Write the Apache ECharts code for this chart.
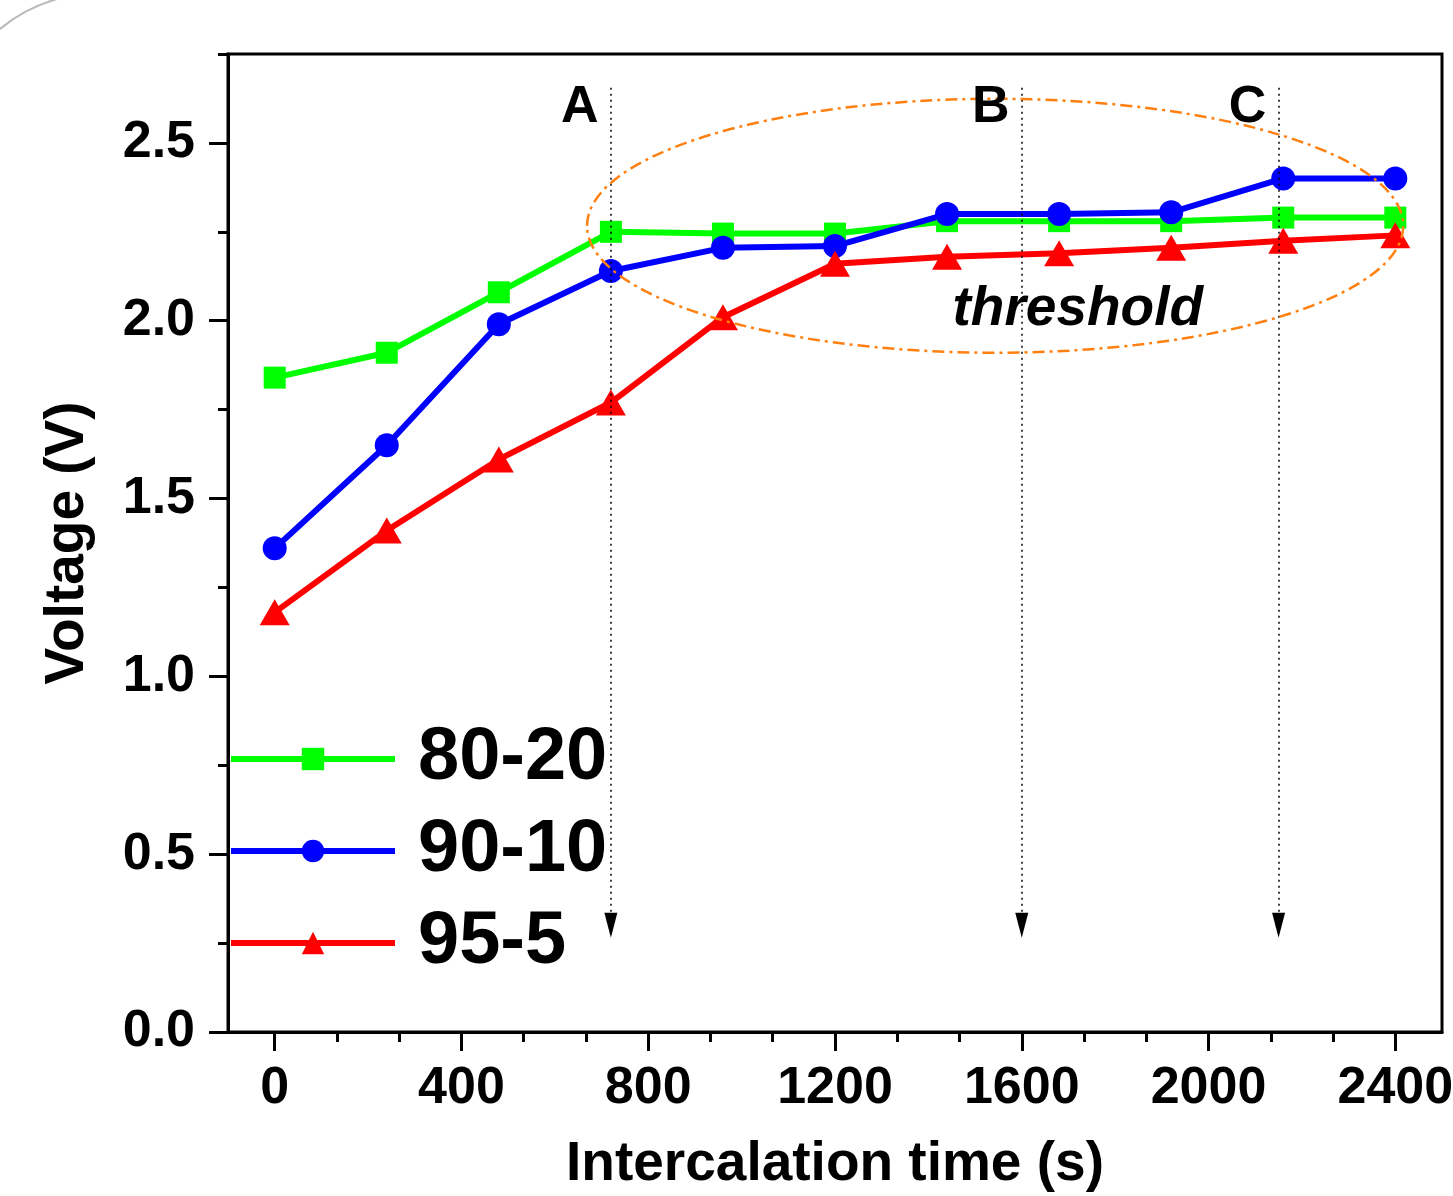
<!DOCTYPE html>
<html>
<head>
<meta charset="utf-8">
<script src="https://cdn.jsdelivr.net/npm/echarts@6/dist/echarts.min.js"></script>
<style>
  html, body { margin: 0; padding: 0; background: #fff; }
  #chart { width: 1453px; height: 1196px; }
</style>
</head>
<body>
<div id="chart"></div>
<script>
// intercalation time (s)
const times = [0, 240, 480, 720, 960, 1200, 1440, 1680, 1920, 2160, 2400]
// voltage (V) per composition
const v8020 = [1.84, 1.91, 2.08, 2.25, 2.245, 2.245, 2.28, 2.28, 2.28, 2.29, 2.29]
const v9010 = [1.36, 1.65, 1.99, 2.14, 2.205, 2.21, 2.30, 2.30, 2.305, 2.40, 2.40]
const v955 = [1.18, 1.41, 1.61, 1.77, 2.01, 2.16, 2.18, 2.19, 2.205, 2.225, 2.24]

const xTicks = [0, 400, 800, 1200, 1600, 2000, 2400]
const yTicks = [0, 0.5, 1.0, 1.5, 2.0, 2.5]

// dotted markers A, B, C
const markNames = ['A', 'B', 'C']
const markTimes = [720, 1600, 2150]
const markTop = 2.655
const markBottom = 0.33
const arrowY = 0.30
const labelY = 2.60

// threshold ellipse (data coords)
const ellipseCenter = [1543, 2.267]
const ellipseRadius = [874, 0.357]
const thresholdPos = [1720, 2.03]

const FONT = 'Liberation Sans, Arial, sans-serif'

const xMinor = []
for (let i = 0; i < xTicks.length - 1; i++) {
  const step = (xTicks[i + 1] - xTicks[i]) / 3
  xMinor.push(xTicks[i] + step, xTicks[i] + 2 * step)
}
const yMinor = yTicks.map(v => v + 0.25)

const pair = (xs, ys) => xs.map((x, i) => [x, ys[i]])

const chart = echarts.init(document.getElementById('chart'))

const axisLine = { onZero: false, lineStyle: { color: '#000', width: 3 } }
const tickStyle = { color: '#000', width: 3 }
const labelStyle = { fontSize: 52, fontWeight: 'bold', color: '#000', fontFamily: FONT }

const option = {
  animation: false,
  backgroundColor: '#fff',
  grid: {
    left: 228, right: 11, top: 54, bottom: 164,
    outerBoundsMode: 'none',
    containLabel: false,
    show: true, borderColor: '#000', borderWidth: 3
  },
  legend: {
    orient: 'vertical',
    left: 228,
    top: 722,
    padding: 0,
    data: ['80-20', '90-10', '95-5'],
    itemWidth: 164,
    itemHeight: 28,
    itemGap: 18,
    selectedMode: false,
    lineStyle: { width: 6 },
    textStyle: {
      fontSize: 74, fontWeight: 'bold', color: '#000', fontFamily: FONT,
      padding: [0, 0, 0, 18]
    }
  },
  xAxis: [
    {
      type: 'value', min: -100, max: 2500,
      axisLine: axisLine,
      axisTick: { customValues: xTicks, length: 19, lineStyle: tickStyle },
      axisLabel: Object.assign({ customValues: xTicks, margin: 31, formatter: v => String(v) }, labelStyle),
      splitLine: { show: false },
      name: 'Intercalation time (s)',
      nameLocation: 'middle',
      nameGap: 105,
      nameTextStyle: { fontSize: 55, fontWeight: 'bold', color: '#000', fontFamily: FONT }
    },
    {
      type: 'value', min: -100, max: 2500, position: 'bottom',
      axisLine: { show: false, onZero: false },
      axisTick: { customValues: xMinor, length: 10, lineStyle: tickStyle },
      axisLabel: { show: false },
      splitLine: { show: false }
    }
  ],
  yAxis: [
    {
      type: 'value', min: 0, max: 2.75,
      axisLine: axisLine,
      axisTick: { customValues: yTicks, length: 19, lineStyle: tickStyle },
      axisLabel: Object.assign({ customValues: yTicks, margin: 33, formatter: v => v.toFixed(1) }, labelStyle),
      splitLine: { show: false },
      name: 'Voltage (V)',
      nameLocation: 'middle',
      nameGap: 133,
      nameTextStyle: { fontSize: 55, fontWeight: 'bold', color: '#000', fontFamily: FONT }
    },
    {
      type: 'value', min: 0, max: 2.75, position: 'left',
      axisLine: { show: false, onZero: false },
      axisTick: { customValues: yMinor, length: 10, lineStyle: tickStyle },
      axisLabel: { show: false },
      splitLine: { show: false }
    }
  ],
  series: [
    {
      name: '80-20', type: 'line', data: pair(times, v8020),
      symbol: 'rect', symbolSize: 22,
      lineStyle: { color: '#00ff00', width: 6 },
      itemStyle: { color: '#00ff00' }
    },
    {
      name: '90-10', type: 'line', data: pair(times, v9010),
      symbol: 'circle', symbolSize: 24,
      lineStyle: { color: '#0000ff', width: 6 },
      itemStyle: { color: '#0000ff' }
    },
    {
      name: '95-5', type: 'line', data: pair(times, v955),
      symbol: 'triangle', symbolSize: [30, 26],
      lineStyle: { color: '#ff0000', width: 6 },
      itemStyle: { color: '#ff0000' }
    },
    {
      name: 'marks', type: 'scatter',
      data: markTimes.map(t => [t, arrowY]),
      symbol: 'triangle', symbolRotate: 180, symbolSize: [13, 25],
      itemStyle: { color: '#000', opacity: 1 },
      silent: true, z: 5,
      markLine: {
        silent: true,
        symbol: ['none', 'none'],
        label: { show: false },
        lineStyle: { type: [2, 4], color: '#000', width: 1.5, opacity: 1 },
        data: markTimes.map(t => [{ coord: [t, markTop] }, { coord: [t, markBottom] }])
      }
    }
  ]
}

chart.setOption(option)

const toPx = v => chart.convertToPixel({ gridIndex: 0 }, v)
const c = toPx(ellipseCenter)
const e = toPx([ellipseCenter[0] + ellipseRadius[0], ellipseCenter[1] + ellipseRadius[1]])
const t = toPx(thresholdPos)

const markLabels = markTimes.map((time, i) => {
  const p = toPx([time, labelY])
  return {
    type: 'text',
    x: p[0] - 31, y: p[1],
    style: {
      text: markNames[i], align: 'center', verticalAlign: 'middle',
      font: 'bold 52px ' + FONT, fill: '#000'
    },
    z: 20, silent: true
  }
})

chart.setOption({
  graphic: [
    {
      type: 'ellipse',
      shape: { cx: c[0], cy: c[1], rx: e[0] - c[0], ry: c[1] - e[1] },
      style: { fill: null, stroke: '#ff8010', lineWidth: 2.5, lineDash: [12, 5, 3, 5] },
      z: 20, silent: true
    },
    {
      type: 'text',
      x: t[0], y: t[1],
      style: {
        text: 'threshold', align: 'center', verticalAlign: 'middle',
        font: 'italic bold 55px ' + FONT, fill: '#000'
      },
      z: 20, silent: true
    },
    {
      type: 'arc',
      shape: { cx: 100, cy: 150, r: 157, startAngle: Math.PI * 1.24, endAngle: Math.PI * 1.42 },
      style: { stroke: '#bbbbbb', lineWidth: 2, fill: null },
      silent: true
    }
  ].concat(markLabels)
})

window.addEventListener('resize', () => chart.resize(), { passive: true })
</script>
</body>
</html>
